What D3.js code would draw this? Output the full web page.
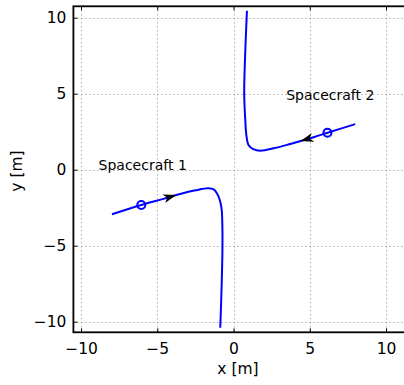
<!DOCTYPE html>
<html>
<head>
<meta charset="utf-8">
<script src="https://cdn.jsdelivr.net/npm/d3@7"></script>
<style>
  body { margin: 0; background: #fff; }
  svg { display: block; font-family: "DejaVu Sans", sans-serif; }
</style>
</head>
<body>
<div id="chart"></div>
<script>
// trajectories, [x, y] in metres
const craft1 = [
  [-7.97, -2.93], [-6.05, -2.32], [-4.6, -1.92], [-3.5, -1.6], [-2.5, -1.36],
  [-1.66, -1.22], [-1.3, -1.3], [-1.09, -1.55], [-0.9, -2.0], [-0.78, -2.6],
  [-0.73, -3.8], [-0.73, -5.5], [-0.79, -8], [-0.87, -10.4]
];
const craft2 = [
  [7.98, 3.0], [6.16, 2.43], [5.3, 2.15], [3.72, 1.69], [2.7, 1.42],
  [1.75, 1.25], [1.3, 1.35], [0.98, 1.63], [0.85, 2.2], [0.77, 3.27],
  [0.7, 5], [0.76, 7.5], [0.88, 10.46]
];
// start markers and direction arrows (tail -> tip)
const markers = [[-6.05, -2.32], [6.16, 2.43]];
const arrows = [
  { from: [-4.7, -1.95], to: [-3.75, -1.67] },
  { from: [5.3, 2.15], to: [4.4, 1.88] }
];
const labels = [
  { text: "Spacecraft 1", x: -8.85, y: 0.0 },
  { text: "Spacecraft 2", x: 3.45, y: 4.6 }
];
const ticks = [-10, -5, 0, 5, 10];

const width = 404, height = 385;
const svg = d3.select("#chart").append("svg")
  .attr("width", width).attr("height", height);

const x = d3.scaleLinear().domain([-10.5, 11.5]).range([73.4, 408.9]);
const y = d3.scaleLinear().domain([-10.7, 10.75]).range([332.3, 6.3]);
const [x0, x1] = x.range(), [y0, y1] = y.range();

// grid
const grid = svg.append("g").attr("stroke", "#888").attr("stroke-width", 1)
  .attr("stroke-dasharray", "1,3");
grid.selectAll(".gx").data(ticks).join("line")
  .attr("x1", d => Math.round(x(d)) + 0.5).attr("x2", d => Math.round(x(d)) + 0.5)
  .attr("y1", y1).attr("y2", y0);
grid.selectAll(".gy").data(ticks).join("line")
  .attr("y1", d => Math.round(y(d)) + 0.5).attr("y2", d => Math.round(y(d)) + 0.5)
  .attr("x1", x0).attr("x2", x1);

// trajectories
const line = d3.line().x(d => x(d[0])).y(d => y(d[1])).curve(d3.curveCatmullRom);
svg.selectAll(".traj").data([craft1, craft2]).join("path")
  .attr("d", line).attr("fill", "none")
  .attr("stroke", "#0000ff").attr("stroke-width", 2);

svg.selectAll(".marker").data(markers).join("circle")
  .attr("cx", d => x(d[0])).attr("cy", d => y(d[1])).attr("r", 4)
  .attr("fill", "none").attr("stroke", "#0000ff").attr("stroke-width", 2);

// arrowheads
const L = 13, W = 4.5;
svg.selectAll(".arrow").data(arrows).join("path")
  .attr("d", `M0,0L${-L},${-W}L${-0.72 * L},0L${-L},${W}Z`)
  .attr("fill", "#000")
  .attr("transform", d => {
    const tx = x(d.to[0]), ty = y(d.to[1]);
    const ang = Math.atan2(ty - y(d.from[1]), tx - x(d.from[0])) * 180 / Math.PI;
    return `translate(${tx},${ty}) rotate(${ang})`;
  });

svg.selectAll(".lab").data(labels).join("text")
  .attr("x", d => x(d.x)).attr("y", d => y(d.y))
  .attr("font-size", 14).attr("fill", "#000")
  .text(d => d.text);

// axes box
svg.append("rect").attr("x", x0).attr("y", y1)
  .attr("width", x1 - x0).attr("height", y0 - y1)
  .attr("fill", "none").attr("stroke", "#000").attr("stroke-width", 1.8);

const xAxisB = d3.axisBottom(x).tickValues(ticks).tickSizeInner(-4).tickSizeOuter(0)
  .tickPadding(10.5).tickFormat(d3.format("d"));
const xAxisT = d3.axisTop(x).tickValues(ticks).tickSizeInner(-4).tickSizeOuter(0).tickFormat("");
const yAxisL = d3.axisLeft(y).tickValues(ticks).tickSizeInner(-4).tickSizeOuter(0)
  .tickPadding(7).tickFormat(d3.format("d"));

function style(g) {
  g.select(".domain").remove();
  g.selectAll(".tick line").attr("stroke", "#000");
  g.selectAll(".tick text").attr("font-size", 15.5).attr("fill", "#000")
    .attr("font-family", "DejaVu Sans, sans-serif");
}
svg.append("g").attr("transform", `translate(0,${y0})`).call(xAxisB).call(style);
svg.append("g").attr("transform", `translate(0,${y1})`).call(xAxisT).call(style);
svg.append("g").attr("transform", `translate(${x0},0)`).call(yAxisL).call(style);

svg.append("text").attr("x", 238).attr("y", 374).attr("text-anchor", "middle")
  .attr("font-size", 15.5).text("x [m]");
svg.append("text").attr("transform", "translate(22,171) rotate(-90)")
  .attr("text-anchor", "middle").attr("font-size", 15.5).text("y [m]");
</script>
</body>
</html>
